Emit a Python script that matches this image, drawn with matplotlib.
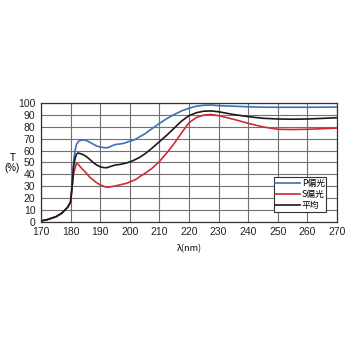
import matplotlib
matplotlib.use("Agg")
import matplotlib.pyplot as plt

plt.rcParams['font.family'] = ['Liberation Sans', 'Noto Sans CJK JP', 'DejaVu Sans']

# Transmission spectra (wavelength in nm, T in %)
wl = [170, 172, 175, 177, 179, 180, 180.5, 181, 181.5, 182, 182.6, 183.2, 184.3,
      185.3, 186.5, 187.6, 188.7, 190, 191.2, 192.2, 193.2, 194.4, 195.5, 196.6,
      198, 199, 200, 201.1, 202.3, 203.4, 205, 207.5, 210, 212.5, 215, 217.5,
      220, 222.5, 225, 227.5, 230, 235, 240, 245, 250, 255, 260, 265, 270]

p_pol = [0.5, 1.5, 4, 7, 12, 16.5, 30, 50, 60, 65, 67.6, 68.5, 69,
         68.5, 67, 65.5, 64, 63, 62.5, 62.3, 63, 64.5, 65.3, 65.5,
         66.2, 67, 68, 68.6, 70, 71.8, 74, 78.5, 83, 87, 90.5, 93.5,
         95.8, 97.5, 98.3, 98.5, 98, 97.5, 97, 96.7, 96.6, 96.6, 96.6, 96.7, 96.8]

s_pol = [0.5, 1.5, 4, 7, 12, 16.5, 28, 40, 45, 49, 48.5, 46.5, 43.5,
         41, 37.5, 35.2, 33, 31, 29.8, 29, 29.2, 29.7, 30.3, 31,
         31.8, 32.4, 33.5, 34.6, 36, 38, 40.5, 45, 50.7, 58, 66, 75,
         83.5, 88, 90, 90.5, 89.5, 86.5, 83, 80, 78, 77.8, 78, 78.5, 79]

avg = [0.5, 1.5, 4, 7, 12, 16.5, 29, 46, 53, 57, 58, 57.5, 56.5,
       55, 52.5, 50, 48, 46.3, 45.6, 45.5, 46.3, 47.3, 48, 48.2,
       49, 49.6, 50.5, 51.5, 53, 54.4, 57, 62, 67.5, 73, 79, 85,
       89.5, 92, 93.3, 93.5, 92.8, 90.5, 88.7, 87.3, 86.7, 86.5, 86.7, 87.2, 87.8]

x_ticks = list(range(170, 271, 10))
y_ticks = list(range(0, 101, 10))
labels = ['P偏光', 'S偏光', '平均']

fig = plt.figure(figsize=(3.5, 3.5), dpi=100)
ax = fig.add_axes([0.117, 0.367, 0.846, 0.338])

ax.plot(wl, p_pol, color='#3a72b5', lw=1.2, label=labels[0])
ax.plot(wl, s_pol, color='#d02a35', lw=1.2, label=labels[1])
ax.plot(wl, avg, color='#1a1a1a', lw=1.2, label=labels[2])

ax.set_xlim(170, 270)
ax.set_ylim(0, 100)
ax.set_xticks(x_ticks)
ax.set_yticks(y_ticks)
ax.grid(True, color='#707070', lw=0.8)
ax.set_axisbelow(True)
ax.tick_params(length=0, labelsize=7.5, pad=4, colors='#222222')
for s in ax.spines.values():
    s.set_color('#333333')
    s.set_linewidth(0.9)

ax.set_xlabel('λ(nm)', fontsize=6.5, labelpad=5,
              family=['Noto Sans CJK JP', 'DejaVu Sans'])
fig.text(0.035, 0.535, 'T\n(%)', fontsize=7, ha='center', va='center',
         linespacing=1.0)

leg = ax.legend(loc='lower right', bbox_to_anchor=(0.964, 0.082),
                frameon=True, fancybox=False, borderpad=0.2,
                labelspacing=0.25, handlelength=2.8, handletextpad=0.2,
                borderaxespad=0.0,
                prop={'family': ['Noto Sans CJK JP', 'DejaVu Sans'], 'size': 6.3})
leg.get_frame().set_edgecolor('#333333')
leg.get_frame().set_linewidth(0.8)
leg.get_frame().set_alpha(1.0)

fig.savefig('out.png', dpi=100, facecolor='white')
